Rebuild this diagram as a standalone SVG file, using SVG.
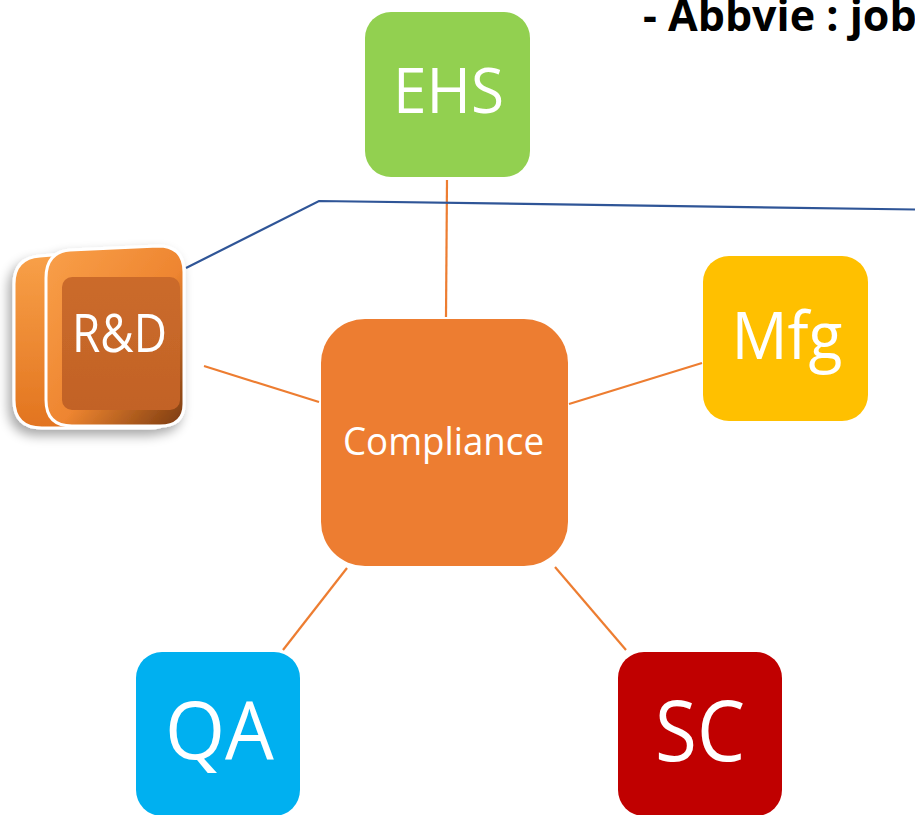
<svg xmlns="http://www.w3.org/2000/svg" width="915" height="815" viewBox="0 0 915 815">
<defs>
<style>
.lbl{font-family:"Open Sans","Noto Sans","Liberation Sans",sans-serif;fill:#FFFFFF;text-anchor:middle}
.con{stroke:#ED7D31;stroke-width:2.2;fill:none}
</style>
<linearGradient id="capG" x1="0" y1="0" x2="1" y2="1">
<stop offset="0" stop-color="#F9A04A"/>
<stop offset="0.55" stop-color="#EE8530"/>
<stop offset="1" stop-color="#7A3A10"/>
</linearGradient>
<linearGradient id="bodyG" x1="0" y1="0" x2="0" y2="1">
<stop offset="0" stop-color="#F9A24A"/>
<stop offset="1" stop-color="#E2741F"/>
</linearGradient>
<linearGradient id="faceG" x1="0" y1="0" x2="0" y2="1">
<stop offset="0" stop-color="#CB6B2B"/>
<stop offset="1" stop-color="#C26226"/>
</linearGradient>
<filter id="sh" x="-30%" y="-30%" width="160%" height="160%">
<feGaussianBlur in="SourceAlpha" stdDeviation="6"/>
<feOffset dx="-4" dy="6" result="b"/>
<feComponentTransfer><feFuncA type="linear" slope="0.35"/></feComponentTransfer>
<feMerge><feMergeNode/><feMergeNode in="SourceGraphic"/></feMerge>
</filter>
</defs>
<rect width="915" height="815" fill="#FFFFFF"/>
<text x="643" y="31" font-family="'Open Sans','Noto Sans','Liberation Sans',sans-serif" font-weight="bold" font-size="43" fill="#000000">- Abbvie : job</text>
<g id="connectors">
<line class="con" x1="447" y1="180" x2="446" y2="317"/>
<line class="con" x1="204" y1="366" x2="319" y2="402"/>
<line class="con" x1="702" y1="363" x2="569" y2="404"/>
<line class="con" x1="347" y1="568" x2="283" y2="650"/>
<line class="con" x1="555" y1="567" x2="626" y2="650"/>
<polyline points="186,268 319,201 915,209.5" fill="none" stroke="#2F5597" stroke-width="2.2"/>
</g>
<g id="node-ehs">
<rect x="365" y="12" width="165" height="165" rx="26" fill="#92D050"/>
<text class="lbl" x="448.5" y="113" font-size="62" textLength="111" lengthAdjust="spacingAndGlyphs">EHS</text>
</g>
<g id="node-mfg">
<rect x="703" y="256" width="165" height="165" rx="26" fill="#FFC000"/>
<text class="lbl" x="787" y="359" font-size="66" textLength="111" lengthAdjust="spacingAndGlyphs">Mfg</text>
</g>
<g id="node-compliance">
<rect x="321" y="319" width="247" height="247" rx="44" fill="#ED7D31"/>
<text class="lbl" x="443.5" y="455" font-size="38" textLength="201" lengthAdjust="spacingAndGlyphs">Compliance</text>
</g>
<g id="node-qa">
<rect x="136" y="652" width="164" height="164" rx="26" fill="#00B0F0"/>
<text class="lbl" x="219.5" y="759" font-size="80" textLength="109" lengthAdjust="spacingAndGlyphs">QA</text>
</g>
<g id="node-sc">
<rect x="618" y="652" width="164" height="164" rx="26" fill="#C00000"/>
<text class="lbl" x="700" y="761" font-size="84" textLength="90" lengthAdjust="spacingAndGlyphs">SC</text>
</g>
<g id="node-rd" filter="url(#sh)">
<path d="M40,256 L150,247 Q172,246 172,268 L172,408 Q172,428 150,428 L42,428 Q14,428 14,400 L14,284 Q14,258 40,256 Z" fill="url(#bodyG)" stroke="#FFFFFF" stroke-width="3"/>
<path d="M70,250 L158,246 Q184,246 184,272 L184,404 Q184,426 160,426 L72,426 Q46,426 46,400 L46,278 Q46,252 70,250 Z" fill="url(#capG)" stroke="#FFFFFF" stroke-width="3"/>
<rect x="62" y="277" width="118" height="133" rx="10" fill="url(#faceG)"/>
<text class="lbl" x="119.5" y="352" font-size="53" textLength="95" lengthAdjust="spacingAndGlyphs">R&amp;D</text>
</g>
</svg>
